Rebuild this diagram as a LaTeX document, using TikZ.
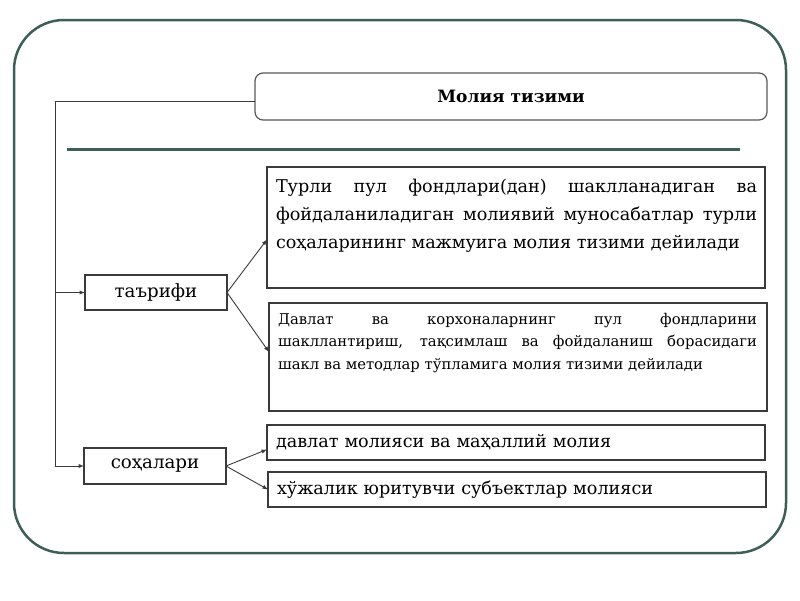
\documentclass[tikz,border=0pt]{standalone}
\usepackage{fontspec}
\setmainfont{DejaVu Serif}
\usetikzlibrary{positioning}

\definecolor{framegreen}{HTML}{3D5F58}
\definecolor{boxline}{HTML}{3A3A3A}

\begin{document}
\begin{tikzpicture}[x=1pt,y=-1pt,>=latex,
	every node/.style={inner sep=0pt,outer sep=0pt},
	labelbox/.style={draw=boxline,line width=1.1pt,minimum width=142pt,minimum height=35pt,font=\fontsize{18.2}{22}\selectfont},
	widebox/.style={draw=boxline,line width=1.1pt,minimum width=498pt,minimum height=35pt,font=\fontsize{17.6}{22}\selectfont,text width=480pt,align=left},
	link/.style={draw=boxline,line width=0.9pt}]
	\useasboundingbox (0,0) rectangle (800,600);
	% frame and title
	\draw [framegreen,line width=2.5pt,rounded corners=50pt] (14,20) rectangle (786,553);
	\node [draw=boxline!85,line width=1.2pt,rounded corners=8pt,minimum width=512pt,minimum height=47pt,font=\fontsize{17}{24}\selectfont\bfseries] (title) at (511,96.5) {Молия тизими};
	\draw [framegreen,line width=3pt] (67,149) -- (740,149);
	% left column
	\node [labelbox] (tarifi) at (156,292.5) {таърифи};
	\node [labelbox,minimum height=36pt] (sohalari) at (155,466) {соҳалари};
	% definitions
	\node [draw=boxline,line width=1.1pt,minimum width=498pt,minimum height=121pt] (def1) at (516,227.5) {};
	\node [anchor=north west,text width=481pt,align=justify,font=\fontsize{17.6}{28}\selectfont] (def1text) at ([shift={(9,12)}]def1.north west)
		{Турли пул фондлари(дан) шаклланадиган ва фойдаланиладиган молиявий муносабатлар турли соҳаларининг мажмуига молия тизими дейилади};
	\node [draw=boxline,line width=1.1pt,minimum width=498pt,minimum height=108pt] (def2) at (518,357) {};
	\node [anchor=north west,text width=479pt,align=justify,font=\fontsize{14.8}{22.5}\selectfont] (def2text) at ([shift={(9,10)}]def2.north west)
		{Давлат ва корхоналарнинг пул фондларини\linebreak шакллантириш, тақсимлаш ва фойдаланиш борасидаги\linebreak шакл ва методлар тўпламига молия тизими дейилади};
	% branches
	\node [widebox] (davlat) at (516,442.5) {давлат молияси ва маҳаллий молия};
	\node [widebox] (xujalik) at (517,489.5) {хўжалик юритувчи субъектлар молияси};
	% connectors
	\coordinate (spine) at (55,101);
	\draw [link] (spine -| title.west) -- (spine) -- (spine |- sohalari.west);
	\draw [link,->] (spine |- tarifi.west) -- (tarifi.west);
	\draw [link,->] (spine |- sohalari.west) -- (sohalari.west);
	\draw [link,->] (tarifi.east) -- ([yshift=-12pt]def1.west);
	\draw [link,->] (tarifi.east) -- ([yshift=5pt]def2.west);
	\draw [link,->] (sohalari.east) -- ([yshift=-7pt]davlat.west);
	\draw [link,->] (sohalari.east) -- (xujalik.west);
\end{tikzpicture}
\end{document}
